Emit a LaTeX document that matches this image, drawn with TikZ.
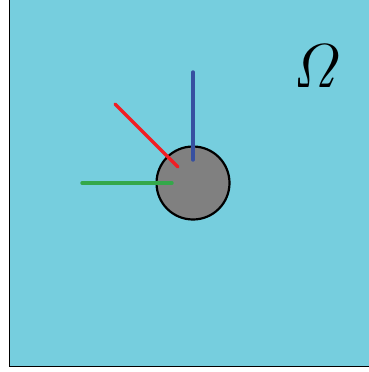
\documentclass[tikz,border=0pt]{standalone}
\usetikzlibrary{positioning}
\definecolor{domainCyan}{RGB}{118, 206, 222}
\definecolor{holeGray}{RGB}{128, 128, 128}
\definecolor{rayRed}{RGB}{240, 30, 36}
\definecolor{rayBlue}{RGB}{55, 80, 160}
\definecolor{rayGreen}{RGB}{52, 168, 74}

\begin{document}
\begin{tikzpicture}[
  x=1pt, y=-1pt,
  hole/.style={
    draw,
    circle,
    line width=2.2pt,
    fill=holeGray,
    minimum size=73pt,
    inner sep=0pt
  },
  ray/.style={line width=3.4pt, line cap=round}
]
  \useasboundingbox (0,0) rectangle (369,372);
  \fill[white] (0,0) rectangle (369,372);
  \fill[domainCyan] (9,-5) rectangle (375,366.5);
  \draw[line width=0.8pt] (9,-5) -- (9,366.5) -- (375,366.5);
  \node[font=\Huge,scale=2.5] (omega) at (317,66) {$\mathit{\Omega}$};
  \node[hole] (inclusion) at (193,183) {};
  \coordinate (blueend) at (193,72);
  \coordinate (blueroot) at (193,160);
  \coordinate (redend) at (115,104);
  \coordinate (redroot) at (178,167);
  \coordinate (greenend) at (82,183);
  \coordinate (greenroot) at (172,183);
  \draw[ray,rayBlue] (blueroot) -- (blueend);
  \draw[ray,rayRed] (redroot) -- (redend);
  \draw[ray,rayGreen] (greenroot) -- (greenend);
\end{tikzpicture}
\end{document}
